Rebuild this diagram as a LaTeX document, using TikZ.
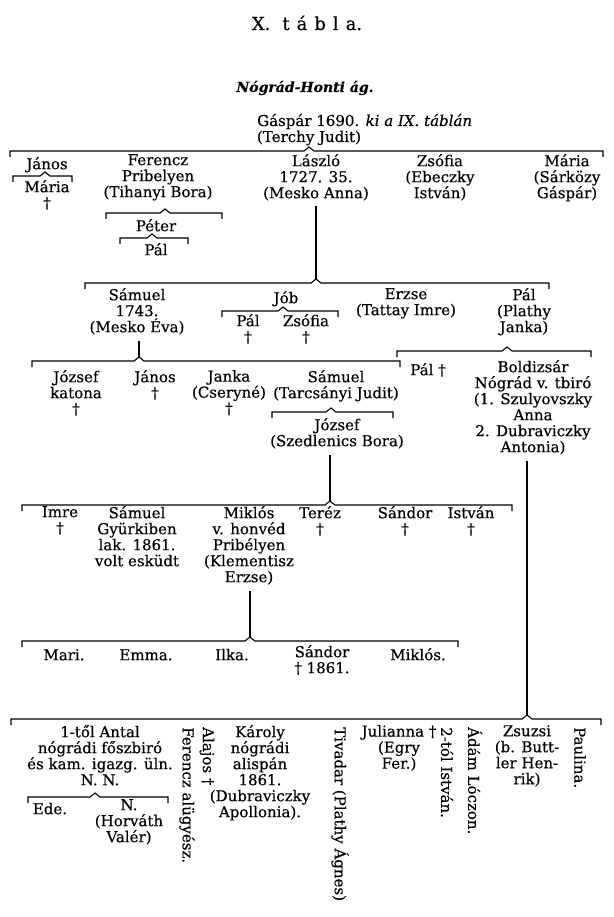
\documentclass[tikz,border=0pt]{standalone}
\usepackage{fontspec}
\setmainfont{DejaVu Serif}[FakeBold=0.4]
\newcommand\tabfont{\fontsize{15}{16}\selectfont\lineskiplimit=-100pt\lineskip=0pt}
\newcommand\brkt[4]{% x1, x2, xc, y
  \draw[brk] (#1,#4+6) -- (#1,#4) -- (#3-5,#4) -- (#3,#4-4) -- (#3+5,#4) -- (#2,#4) -- (#2,#4+6);}
\begin{document}
\begin{tikzpicture}[x=1pt,y=-1pt,
  lbl/.style={align=center, inner sep=0pt, anchor=north, yshift=15pt, font=\tabfont,
    execute at begin node={\rule{0pt}{15pt}}},
  vlbl/.style={inner sep=0pt, anchor=west, rotate=-90, font=\tabfont},
  brk/.style={line width=1.1pt},
  conn/.style={line width=1.4pt}]
\useasboundingbox (0,0) rectangle (613,917);
\fill[white] (0,0) rectangle (613,917);

% headings
\node[font=\fontsize{18}{20}\selectfont, inner sep=0pt, anchor=base] (title) at (307,30)
  {X.\hskip 12pt t\hskip 7pt á\hskip 7pt b\hskip 7pt l\hskip 7pt a.};
\node[font=\fontsize{14}{16}\selectfont\bfseries\itshape, inner sep=0pt, anchor=base] (sub) at (305,92) {Nógrád-Honti ág.};
\node[font=\tabfont, inner sep=0pt, anchor=base west] (gaspar) at (257,126) {Gáspár 1690. \textit{ki a IX. táblán}};
\node[font=\tabfont, inner sep=0pt, anchor=base] (terchy) at (309,142) {(Terchy Judit)};

% row 1
\coordinate (k1) at (309,147);
\brkt{10}{603}{309}{151}
\node[lbl] (janos1) at (47,169) {János};
\brkt{13}{72}{45}{176}
\node[lbl] (maria1) at (47,195) {Mária\\†};
\node[lbl] (ferencz) at (158,169) {Ferencz\\Pribelyen\\(Tihanyi Bora)};
\brkt{106}{222}{165}{213}
\node[lbl] (peter) at (156,231) {Péter};
\brkt{120}{188}{152}{238}
\node[lbl] (pal1) at (156,255) {Pál};
\node[lbl] (laszlo) at (316,169) {László\\1727. 35.\\(Mesko Anna)};
\node[lbl] (zsofia1) at (440,169) {Zsófia\\(Ebeczky\\István)};
\node[lbl] (maria2) at (567,169) {Mária\\(Sárközy\\Gáspár)};

% row 2
\coordinate (k2) at (316,279);
\draw[conn] ([yshift=-5pt]laszlo.south) -- (k2);
\brkt{85}{549}{316}{283}
\node[lbl] (samuel1) at (137,303) {Sámuel\\1743.\\(Mesko Éva)};
\node[lbl] (job) at (286,303) {Jób};
\brkt{222}{338}{283}{311}
\node[lbl] (pal2) at (248,329) {Pál\\†};
\node[lbl] (zsofia2) at (306,329) {Zsófia\\†};
\node[lbl] (erzse) at (406,303) {Erzse\\(Tattay Imre)};
\node[lbl] (pal3) at (524,303) {Pál\\(Plathy\\Janka)};
\brkt{397}{591}{507}{351}
\node[lbl] (pal4) at (428,375) {Pál †};
\node[lbl] (bold) at (533,375) {Boldizsár\\Nógrád v. tbiró\\(1. Szulyovszky\\Anna\\2. Dubraviczky\\Antonia)};

% row 3
\coordinate (k3) at (139,357);
\draw[conn] (k3 |- samuel1.south) ++(0,6) -- (k3);
\brkt{32}{400}{139}{361}
\node[lbl] (jozsef1) at (76,385) {József\\katona\\†};
\node[lbl] (janos2) at (155,385) {János\\†};
\node[lbl] (janka) at (229,385) {Janka\\(Cseryné)\\†};
\node[lbl] (samuel2) at (336,385) {Sámuel\\(Tarcsányi Judit)};
\brkt{272}{393}{331}{412}
\node[lbl] (jozsef2) at (337,433) {József\\(Szedlenics Bora)};

% row 4
\coordinate (k4) at (330,501);
\draw[conn] (k4 |- jozsef2.south) ++(0,6) -- (k4);
\brkt{22}{512}{330}{505}
\node[lbl] (imre) at (60,521) {Imre\\†};
\node[lbl] (samuel3) at (137,521) {Sámuel\\Gyürkiben\\lak. 1861.\\volt esküdt};
\node[lbl] (miklos1) at (249,521) {Miklós\\v. honvéd\\Pribélyen\\(Klementisz\\Erzse)};
\node[lbl] (terez) at (320,521) {Teréz\\†};
\node[lbl] (sandor1) at (405,521) {Sándor\\†};
\node[lbl] (istvan1) at (471,521) {István\\†};

% row 5
\coordinate (k5) at (250,637);
\draw[conn] (k5 |- miklos1.south) ++(0,6) -- (k5);
\brkt{22}{458}{250}{641}
\node[lbl] (mari) at (64,660) {Mari.};
\node[lbl] (emma) at (146,660) {Emma.};
\node[lbl] (ilka) at (232,660) {Ilka.};
\node[lbl] (sandor2) at (322,660) {Sándor\\† 1861.};
\node[lbl] (miklos2) at (418,660) {Miklós.};

% row 6
\coordinate (k6) at (527,715);
\draw[conn] (k6 |- bold.south) ++(0,6) -- (k6);
\brkt{11}{601}{527}{719}
\node[lbl] (antal) at (100,740) {1-től Antal\\nógrádi főszbiró\\és kam. igazg. üln.\\N. N.};
\brkt{28}{168}{95}{797}
\node[lbl] (ede) at (50,814) {Ede.};
\node[lbl] (nn) at (129,814) {N.\\(Horváth\\Valér)};
\node[vlbl] (ferencz2) at (187,727) {Ferencz alügyész.};
\node[vlbl] (alajos) at (207,727) {Alajos †};
\node[lbl] (karoly) at (260,740) {Károly\\nógrádi\\alispán\\1861.\\(Dubraviczky\\Apollonia).};
\node[vlbl] (tivadar) at (340,727) {Tivadar (Plathy Ágnes)};
\node[lbl] (julianna) at (399,740) {Julianna †\\(Egry\\Fer.)};
\node[vlbl] (istvan2) at (447,727) {2-tól István.};
\node[vlbl] (adam) at (475,727) {Ádám Lóczon.};
\node[lbl] (zsuzsi) at (527,740) {Zsuzsi\\(b. Butt-\\ler Hen-\\rik)};
\node[vlbl] (paulina) at (580,727) {Paulina.};
\end{tikzpicture}
\end{document}
